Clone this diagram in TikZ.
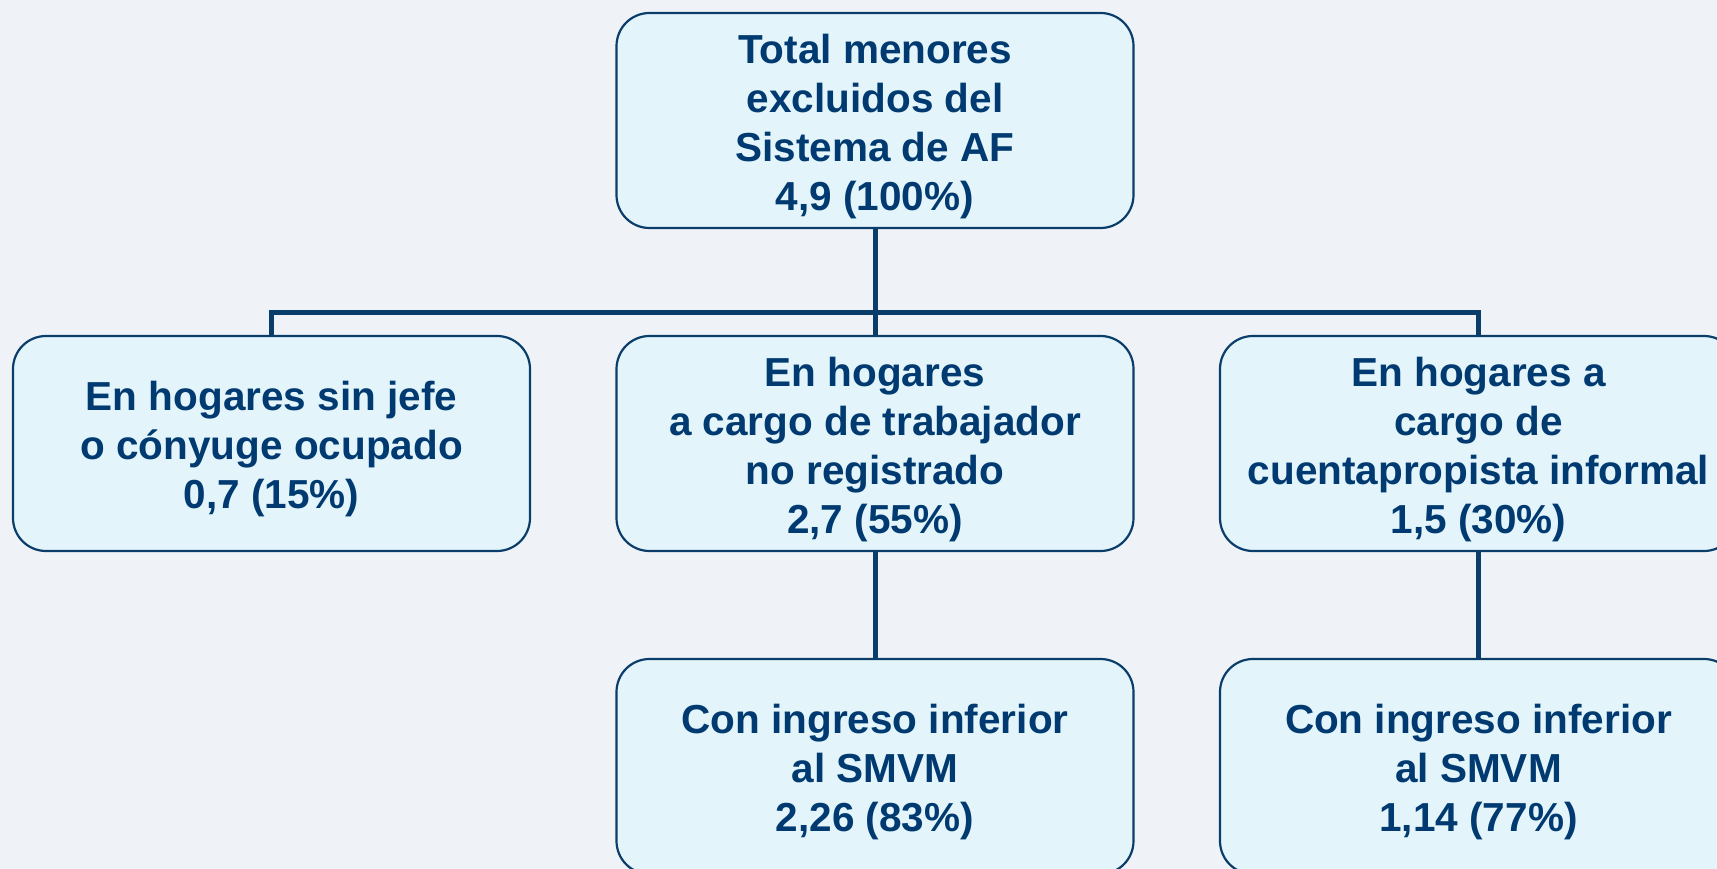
\documentclass[tikz,border=0pt]{standalone}
\usepackage{fontspec}
\setmainfont{Liberation Sans}
\usepackage{tikz}
\definecolor{Back}{HTML}{EFF3F7}
\definecolor{BoxFill}{HTML}{E3F5FB}
\definecolor{Navy}{HTML}{0B3D6B}
\definecolor{Ink}{HTML}{003A70}
\newcommand{\lift}{\rule{0pt}{41pt}}

\begin{document}
\begin{tikzpicture}[x=1pt,y=-1pt,
  box/.style={draw=Navy,line width=2.2pt,fill=BoxFill,rounded corners=33pt,
    minimum width=517pt,minimum height=215pt,align=center,text=Ink,
    font=\fontsize{40.5}{49}\selectfont\bfseries},
  link/.style={draw=Navy,line width=5pt}]
% Page
\clip (0,0) rectangle (1717,869);
\fill [Back] (0,0) rectangle (1717,869);
% Boxes
\node [box] (total) at (875,120.5) {\lift Total menores\\excluidos del\\Sistema de AF\\4,9 (100\%)};
\node [box] (sinjefe) at (271.5,443.5) {\lift En hogares sin jefe\\o cónyuge ocupado\\0,7 (15\%)};
\node [box] (noreg) at (875,443.5) {\lift En hogares\\a cargo de trabajador\\no registrado\\2,7 (55\%)};
\node [box] (cuenta) at (1478.5,443.5) {\lift En hogares a\\cargo de\\cuentapropista informal\\1,5 (30\%)};
\node [box] (smvmA) at (875,766.5) {\lift Con ingreso inferior\\al SMVM\\2,26 (83\%)};
\node [box] (smvmB) at (1478.5,766.5) {\lift Con ingreso inferior\\al SMVM\\1,14 (77\%)};
% Connectors
\coordinate (bar) at (875,312);
\draw [link] (total.south) -- (noreg.north);
\draw [link] (sinjefe.north) -- (sinjefe.north |- bar) -- (cuenta.north |- bar) -- (cuenta.north);
\draw [link] (noreg.south) -- (smvmA.north);
\draw [link] (cuenta.south) -- (smvmB.north);
\end{tikzpicture}
\end{document}
